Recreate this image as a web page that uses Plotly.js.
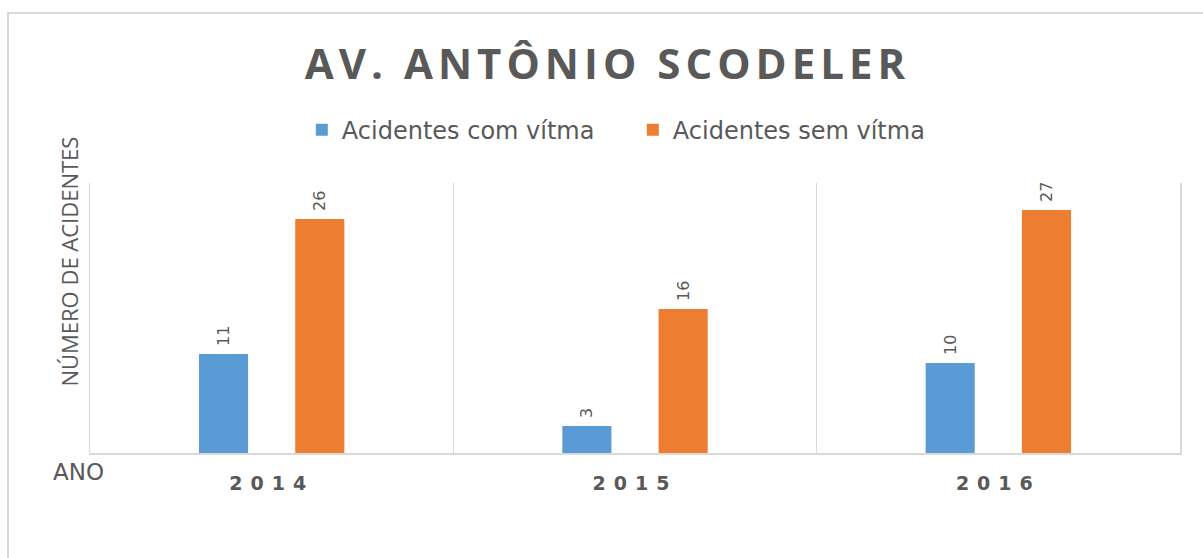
<!DOCTYPE html>
<html>
<head>
<meta charset="utf-8">
<script src="https://cdn.plot.ly/plotly-3.0.1.min.js"></script>
<style>
  html, body { margin: 0; padding: 0; background: #fff; overflow: hidden; }
  #chart { position: absolute; left: 0; top: 0; width: 1203px; height: 558px; }
  #frame { position: absolute; left: 7px; top: 12px; width: 1300px; height: 700px;
           border: 2px solid #d9d9d9; pointer-events: none; }
  #chart .gtitle { letter-spacing: 5px; }
  #chart .xtick text { letter-spacing: 8px; }
</style>
</head>
<body>
<div id="chart"></div>
<div id="frame"></div>
<script>
const years = ["2014", "2015", "2016"];
const comVitima = [11, 3, 10];
const semVitima = [26, 16, 27];
const seriesNames = ["Acidentes com vítma", "Acidentes sem vítma"];
const chartTitle = "AV. ANTÔNIO SCODELER";
const yTitle = "NÚMERO DE ACIDENTES";
const xTitle = "ANO";

const gray = "#595959";
const font = "Open Sans, Liberation Sans, sans-serif";
const wide = "DejaVu Sans, Open Sans, sans-serif";

const labelFont = { family: wide, size: 16, color: gray };
const pad = "\u00A0";

const traces = [
  { type: "bar", name: seriesNames[0], x: years, y: comVitima,
    marker: { color: "#5B9BD5" }, text: comVitima.map(v => pad + v),
    textposition: "outside", textangle: -90, textfont: labelFont,
    cliponaxis: false, hoverinfo: "x+y" },
  { type: "bar", name: seriesNames[1], x: years, y: semVitima,
    marker: { color: "#ED7D31" }, text: semVitima.map(v => pad + v),
    textposition: "outside", textangle: -90, textfont: labelFont,
    cliponaxis: false, hoverinfo: "x+y" }
];

const layout = {
  width: 1203, height: 558,
  margin: { l: 90, r: 23, t: 183, b: 105 },
  paper_bgcolor: "rgba(0,0,0,0)", plot_bgcolor: "#fff",
  barmode: "group", bargap: 0.47, bargroupgap: 0.49,
  title: { text: "<b>" + chartTitle + "</b>", font: { family: font, size: 42, color: gray },
           x: 0.505, xref: "container", xanchor: "center",
           y: 0.885, yref: "container", yanchor: "middle" },
  showlegend: true,
  legend: { orientation: "h", x: 0.498, xanchor: "center", y: 1.196, yanchor: "middle",
            entrywidth: 286, entrywidthmode: "pixels",
            font: { family: wide, size: 24, color: gray }, itemclick: false, traceorder: "normal" },
  xaxis: { type: "category", tickson: "boundaries", showgrid: true, gridcolor: "#d9d9d9", gridwidth: 1.5,
           showline: true, linecolor: "#d9d9d9", linewidth: 2, ticks: "", ticklen: 0,
           ticklabelstandoff: 12,
           tickfont: { family: wide, size: 19, color: gray, weight: "bold" }, fixedrange: true },
  yaxis: { range: [0, 30], showgrid: false, showticklabels: false, zeroline: false,
           showline: true, mirror: true, linecolor: "#d9d9d9", linewidth: 1.5,
           ticks: "", fixedrange: true },
  annotations: [
    { text: yTitle, xref: "paper", yref: "paper", x: -0.019, y: 0.71, xanchor: "center", yanchor: "middle",
      textangle: -90, showarrow: false, font: { family: font, size: 22, color: gray } },
    { text: xTitle, xref: "paper", yref: "paper", x: -0.011, y: -0.07, xanchor: "center", yanchor: "middle",
      showarrow: false, font: { family: wide, size: 23, color: gray } }
  ]
};

Plotly.newPlot("chart", traces, layout, { displayModeBar: false, staticPlot: true });
</script>
</body>
</html>
